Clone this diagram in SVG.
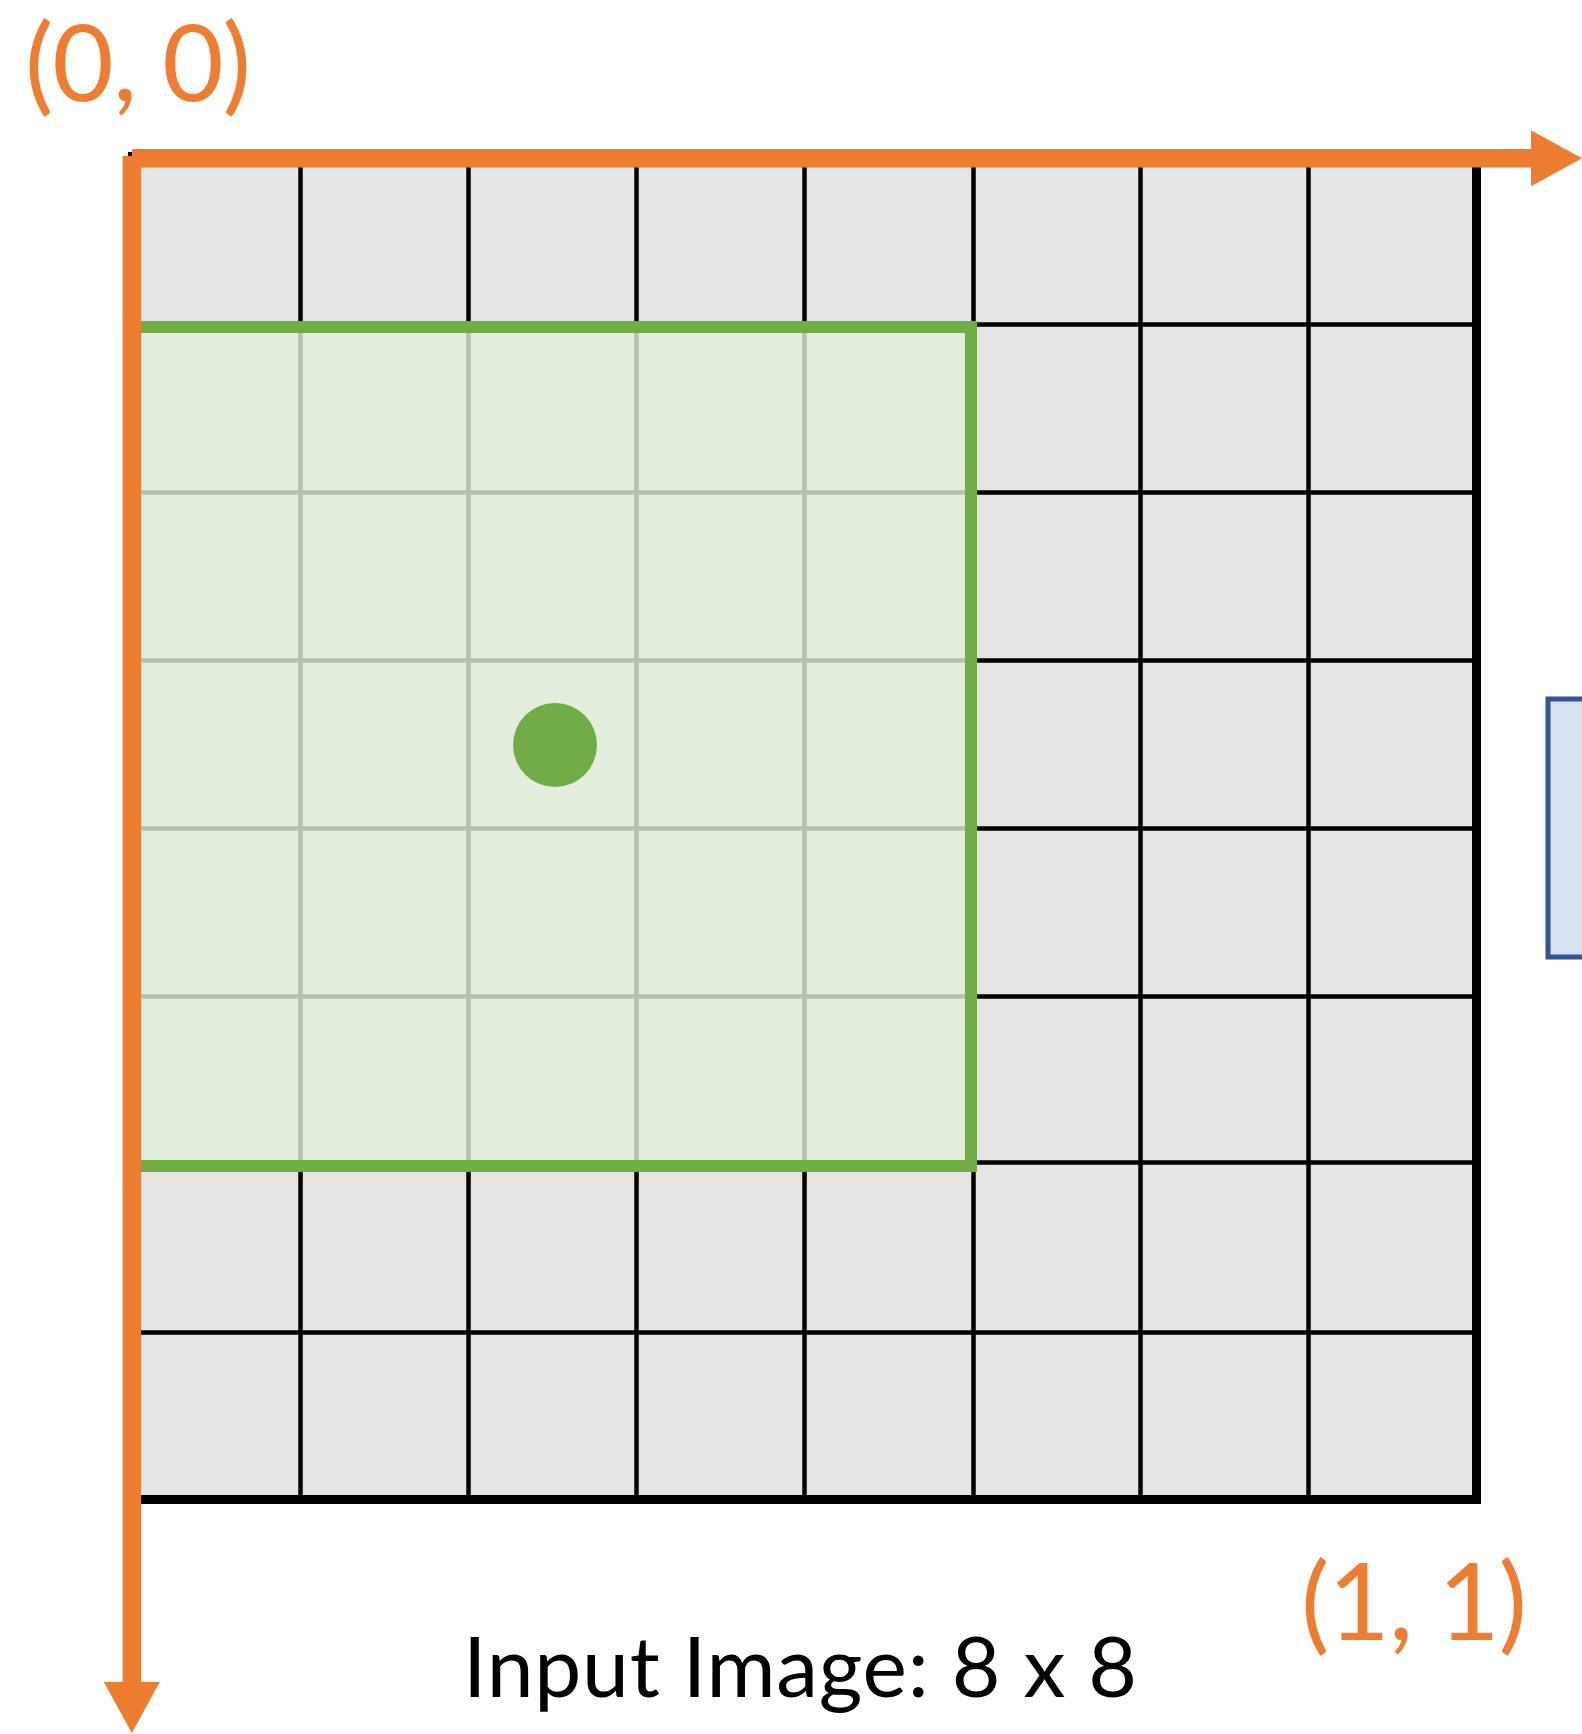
<svg xmlns="http://www.w3.org/2000/svg" width="1582" height="1734" viewBox="0 0 1582 1734">
<style>
.cell{fill:#E5E5E5}
.gl{stroke:#000;stroke-width:4.5;fill:none}
.frame{stroke:#000;stroke-width:9;fill:none}
.win{fill:#E2F0D9;fill-opacity:0.8;stroke:#70AD47;stroke-width:12}
.axis{stroke:#ED7D31;stroke-width:18.5;fill:none}
.coord{font-family:Lato,"Liberation Sans",sans-serif;font-size:106px;fill:#ED7D31}
.cap{font-family:Lato,"Liberation Sans",sans-serif;font-size:84px;fill:#000}
</style>
<defs>
<marker id="ah" markerUnits="userSpaceOnUse" markerWidth="52" markerHeight="56" refX="0" refY="28" orient="auto">
<path d="M0,0 L51,28 L0,56 z" fill="#ED7D31"/>
</marker>
</defs>
<rect width="1582" height="1734" fill="#fff"/>
<g id="grid">
<rect class="cell" x="132.5" y="156.5" width="1344" height="1343"/>
<path class="gl" d="M300.5,156.5V1499.5 M468.5,156.5V1499.5 M636.5,156.5V1499.5 M804.5,156.5V1499.5 M973.5,156.5V1499.5 M1140.5,156.5V1499.5 M1308.5,156.5V1499.5 M132.5,324.5H1476.5 M132.5,492.5H1476.5 M132.5,660.5H1476.5 M132.5,828.5H1476.5 M132.5,996.5H1476.5 M132.5,1162.5H1476.5 M132.5,1332.5H1476.5"/>
<rect class="frame" x="132.5" y="156.5" width="1344" height="1343"/>
</g>
<g id="window">
<rect class="win" x="133" y="327" width="838" height="839"/>
</g>
<g id="center-point">
<circle cx="555" cy="745" r="42" fill="#70AD47"/>
</g>
<g id="side-box">
<rect x="1548" y="699" width="100" height="258" fill="#DAE3F3" stroke="#2F5597" stroke-width="5"/>
</g>
<g id="connectors">
<line class="axis" x1="132" y1="158.3" x2="1531" y2="158.3" marker-end="url(#ah)"/>
<line class="axis" x1="131.8" y1="156" x2="131.8" y2="1682" marker-end="url(#ah)"/>
</g>
<g id="label-origin">
<text class="coord" x="25" y="101" textLength="226">(0, 0)</text>
</g>
<g id="label-end">
<text class="coord" x="1301" y="1640" textLength="226">(1, 1)</text>
</g>
<g id="label-caption">
<text class="cap" x="463" y="1697" textLength="674">Input Image: 8 x 8</text>
</g>
</svg>
